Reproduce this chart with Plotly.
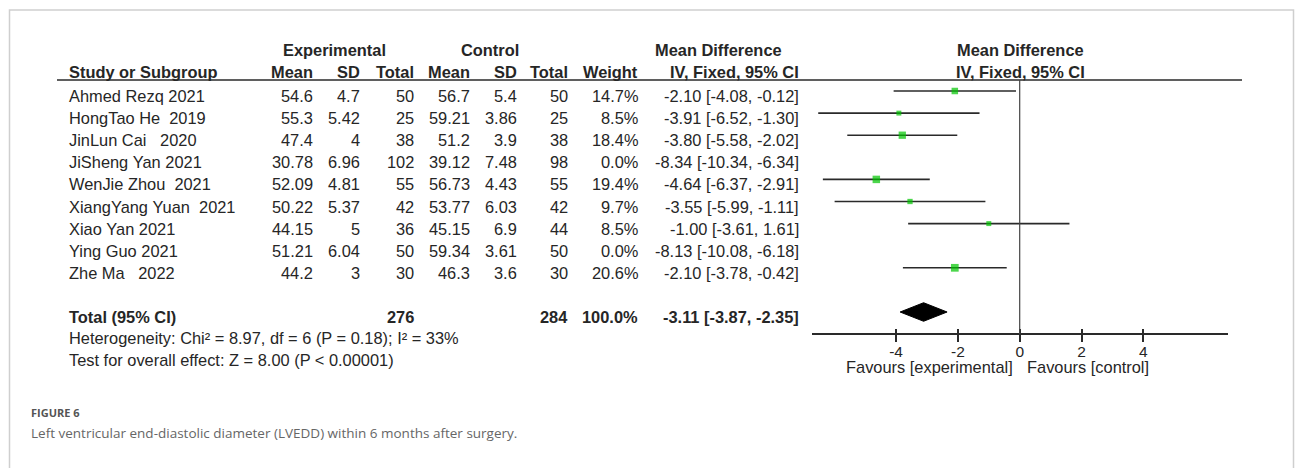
import plotly.graph_objects as go

# ---- study data ----
studies = ["Ahmed Rezq 2021", "HongTao He  2019", "JinLun Cai   2020", "JiSheng Yan 2021",
           "WenJie Zhou  2021", "XiangYang Yuan  2021", "Xiao Yan 2021", "Ying Guo 2021",
           "Zhe Ma   2022"]
exp_mean = [54.6, 55.3, 47.4, 30.78, 52.09, 50.22, 44.15, 51.21, 44.2]
exp_sd = [4.7, 5.42, 4, 6.96, 4.81, 5.37, 5, 6.04, 3]
exp_n = [50, 25, 38, 102, 55, 42, 36, 50, 30]
ctl_mean = [56.7, 59.21, 51.2, 39.12, 56.73, 53.77, 45.15, 59.34, 46.3]
ctl_sd = [5.4, 3.86, 3.9, 7.48, 4.43, 6.03, 6.9, 3.61, 3.6]
ctl_n = [50, 25, 38, 98, 55, 42, 44, 50, 30]
weight = [14.7, 8.5, 18.4, 0.0, 19.4, 9.7, 8.5, 0.0, 20.6]
md = [-2.10, -3.91, -3.80, -8.34, -4.64, -3.55, -1.00, -8.13, -2.10]
ci_lo = [-4.08, -6.52, -5.58, -10.34, -6.37, -5.99, -3.61, -10.08, -3.78]
ci_hi = [-0.12, -1.30, -2.02, -6.34, -2.91, -1.11, 1.61, -6.18, -0.42]

total_exp_n = 276
total_ctl_n = 284
total_weight = 100.0
total_md = -3.11
total_lo = -3.87
total_hi = -2.35

heterogeneity = "Heterogeneity: Chi² = 8.97, df = 6 (P = 0.18); I² = 33%"
overall = "Test for overall effect: Z = 8.00 (P < 0.00001)"
tick_vals = [-4, -2, 0, 2, 4]

W, H = 1295, 468
ROW0, ROWH = 91.0, 22.1          # pixel centre of first row, row pitch
rows = list(range(len(studies)))
total_row = len(studies) + 1

# forest-plot scale: 0 at x=1019.7 px, 30.9 px per unit
X0, PXU = 1019.7, 30.9
AX_L, AX_R = 812, 1228
x_range = [(AX_L - X0) / PXU, (AX_R - X0) / PXU]

TXT = "#262626"
FONT = "Liberation Sans, Arial, sans-serif"
FS = 16.4
PAD = 3   # annotation box padding, compensated so text edges land on the column edges


def px(x):
    return x / W


def py(y):
    return 1 - y / H


fig = go.Figure()

# CI lines + weighted squares (studies with zero weight are not drawn)
sel = [i for i in rows if weight[i] > 0]
fig.add_trace(go.Scatter(
    x=[md[i] for i in sel], y=[rows[i] for i in sel],
    mode="markers",
    marker=dict(symbol="square", color="#00c400",
                size=[1.7 * weight[i] ** 0.5 for i in sel], line=dict(width=0)),
    error_x=dict(type="data", symmetric=False,
                 array=[ci_hi[i] - md[i] for i in sel],
                 arrayminus=[md[i] - ci_lo[i] for i in sel],
                 width=0, thickness=1.6, color="#2a2a2a"),
    cliponaxis=False, hoverinfo="skip", showlegend=False))

# pooled estimate diamond
h = 0.42
fig.add_trace(go.Scatter(
    x=[total_lo, total_md, total_hi, total_md, total_lo],
    y=[total_row, total_row - h, total_row, total_row + h, total_row],
    mode="lines", fill="toself", fillcolor="black",
    line=dict(color="black", width=1), hoverinfo="skip", showlegend=False))

# dummy trace on the inner-tick axis
fig.add_trace(go.Scatter(x=[0], y=[0], xaxis="x2", mode="markers",
                         marker=dict(opacity=0), hoverinfo="skip", showlegend=False))

axis_pos = py(334)
fig.update_layout(
    width=W, height=H, margin=dict(l=0, r=0, t=0, b=0),
    paper_bgcolor="white", plot_bgcolor="white",
    font=dict(family=FONT, color=TXT, size=FS),
    xaxis=dict(domain=[px(AX_L), px(AX_R)], range=x_range, anchor="free", position=axis_pos,
               showline=True, linecolor="#2a2a2a", linewidth=2,
               tickvals=tick_vals, ticktext=[str(v) for v in tick_vals],
               ticks="outside", ticklen=7, tickwidth=2, tickcolor="#2a2a2a",
               ticklabelstandoff=-4,
               tickfont=dict(size=15.5, color=TXT, family=FONT),
               showgrid=False, zeroline=False, fixedrange=True),
    xaxis2=dict(domain=[px(AX_L), px(AX_R)], range=x_range, anchor="free", position=axis_pos,
                overlaying="x", showline=False, tickvals=tick_vals, showticklabels=False,
                ticks="inside", ticklen=5, tickwidth=2, tickcolor="#2a2a2a",
                showgrid=False, zeroline=False),
    yaxis=dict(domain=[0, 1], range=[(H - ROW0) / ROWH, -ROW0 / ROWH],
               visible=False, fixedrange=True),
)

shapes = []
# outer frame
shapes.append(dict(type="path", xref="paper", yref="paper",
                   path=f"M {px(9.5)} 0 L {px(9.5)} {py(10)} L {px(1293.5)} {py(10)} L {px(1293.5)} 0",
                   line=dict(color="#cfcfcf", width=1.5)))
# header rule
shapes.append(dict(type="line", xref="paper", yref="paper",
                   x0=px(57), x1=px(1242), y0=py(80), y1=py(80),
                   line=dict(color="#2a2a2a", width=1.6)))
# line of no effect
shapes.append(dict(type="line", xref="x", yref="paper",
                   x0=0, x1=0, y0=py(80), y1=axis_pos,
                   line=dict(color="#444444", width=1.2)))
fig.update_layout(shapes=shapes)

ann = []


def text(x, y, s, anchor="right", bold=False, yref="paper", yshift=0, size=FS, color=TXT, family=FONT):
    if anchor == "left":
        x -= PAD
    elif anchor == "right":
        x += PAD
    ann.append(dict(x=px(x), y=y, xref="paper", yref=yref, text=f"<b>{s}</b>" if bold else s,
                    xanchor=anchor, yanchor="middle", showarrow=False, yshift=yshift,
                    font=dict(size=size, color=color, family=family)))


# column header rows
text(334, py(50), "Experimental", "center", True)
text(490, py(50), "Control", "center", True)
text(718, py(50), "Mean Difference", "center", True)
text(1020, py(50), "Mean Difference", "center", True)
text(70, py(72), "Study or Subgroup", "left", True)
cols = [312, 359, 413, 469, 516, 567, 637, 798]
for c, lab in zip(cols, ["Mean", "SD", "Total", "Mean", "SD", "Total", "Weight", "IV, Fixed, 95% CI"]):
    text(c, py(72), lab, "right", True)
text(1020, py(72), "IV, Fixed, 95% CI", "center", True)

# study rows
for i in rows:
    vals = [f"{exp_mean[i]:g}", f"{exp_sd[i]:g}", f"{exp_n[i]}",
            f"{ctl_mean[i]:g}", f"{ctl_sd[i]:g}", f"{ctl_n[i]}",
            f"{weight[i]:.1f}%", f"{md[i]:.2f} [{ci_lo[i]:.2f}, {ci_hi[i]:.2f}]"]
    text(70, rows[i], studies[i].replace(" ", "\u00a0"), "left", yref="y", yshift=-5)
    for c, v in zip(cols, vals):
        text(c, rows[i], v, "right", yref="y", yshift=-5)

# total row
text(70, total_row, "Total (95% CI)", "left", True, yref="y", yshift=-5)
text(413, total_row, f"{total_exp_n}", "right", True, yref="y", yshift=-5)
text(567, total_row, f"{total_ctl_n}", "right", True, yref="y", yshift=-5)
text(637, total_row, f"{total_weight:.1f}%", "right", True, yref="y", yshift=-5)
text(798, total_row, f"{total_md:.2f} [{total_lo:.2f}, {total_hi:.2f}]", "right", True,
     yref="y", yshift=-5)

text(70, py(338), heterogeneity, "left")
text(70, py(360), overall, "left")

# favours labels
text(1012, py(367), "Favours [experimental]", "right")
text(1028, py(367), "Favours [control]", "left")

# caption
text(32, py(412), "<b>FIGURE 6</b>", "left", size=11, color="#555555", family="Open Sans")
text(32, py(433), "Left ventricular end-diastolic diameter (LVEDD) within 6 months after surgery.",
     "left", size=13.5, color="#666666", family="Open Sans")

fig.update_layout(annotations=ann)
fig.write_html("out.html")
